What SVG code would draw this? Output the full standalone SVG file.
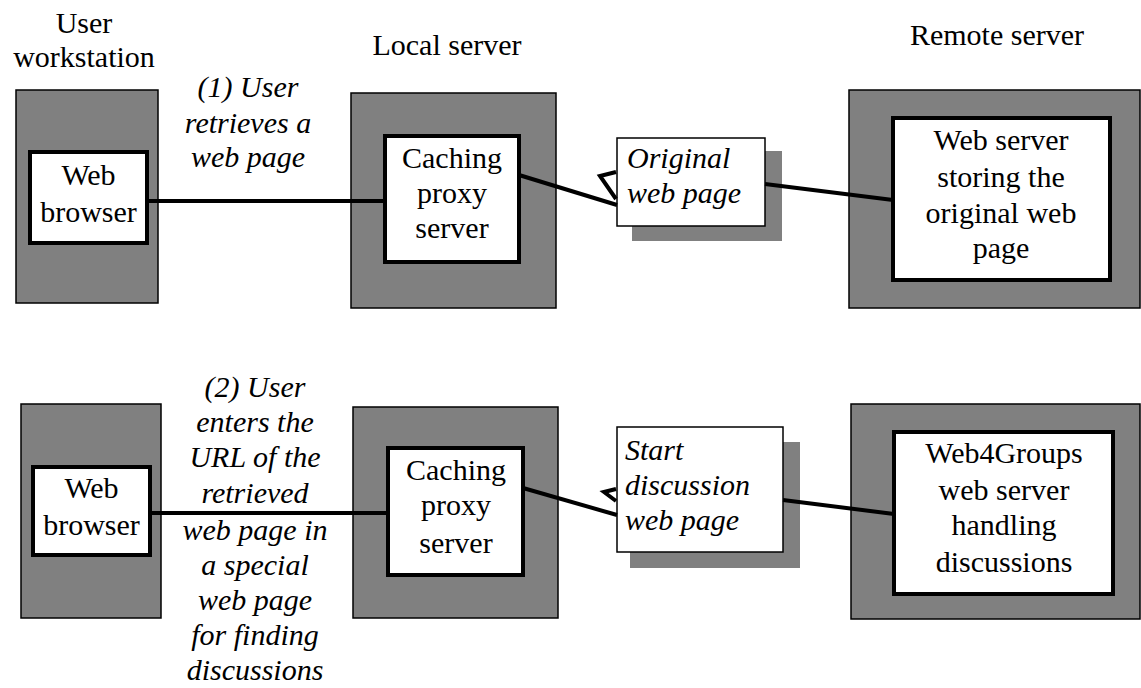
<svg xmlns="http://www.w3.org/2000/svg" width="1141" height="688" viewBox="0 0 1141 688">
<style>
text{font-family:"Liberation Serif","Times New Roman",Times,Tinos,"Noto Serif","DejaVu Serif",serif;font-size:30px;fill:#000}
.c{text-anchor:middle}
.i{font-style:italic}
.outer{fill:#808080;stroke:#000;stroke-width:1.5}
.inner{fill:#fff;stroke:#000;stroke-width:4}
.page{fill:#fff;stroke:#000;stroke-width:1.5}
.shadow{fill:#808080}
.conn{fill:none;stroke:#000;stroke-width:4;stroke-linejoin:miter}
</style>
<rect width="1141" height="688" fill="#fff"/>
<g id="titles">
<text class="c" x="84" y="33">User</text>
<text class="c" x="84" y="67">workstation</text>
<text class="c" x="447" y="55">Local server</text>
<text class="c" x="997" y="45">Remote server</text>
</g>
<g id="workstation1">
<rect class="outer" x="16" y="90" width="142" height="213"/>
<rect class="inner" x="30" y="152" width="117" height="91"/>
<text class="c" x="88.5" y="185">Web</text>
<text class="c" x="88.5" y="222">browser</text>
</g>
<g id="local1">
<rect class="outer" x="351" y="93" width="205" height="215"/>
<rect class="inner" x="385" y="136" width="134" height="126"/>
<text class="c" x="452" y="168">Caching</text>
<text class="c" x="452" y="203">proxy</text>
<text class="c" x="452" y="238">server</text>
</g>
<g id="page1">
<rect class="shadow" x="632" y="151" width="150" height="90"/>
<rect class="page" x="617" y="138" width="148" height="88"/>
<text class="i" x="627" y="168">Original</text>
<text class="i" x="627" y="203">web page</text>
</g>
<g id="remote1">
<rect class="outer" x="849" y="90" width="291" height="218"/>
<rect class="inner" x="893" y="118" width="217" height="162"/>
<text class="c" x="1001" y="150">Web server</text>
<text class="c" x="1001" y="187">storing the</text>
<text class="c" x="1001" y="223">original web</text>
<text class="c" x="1001" y="258">page</text>
</g>
<g id="label1">
<text class="c i" x="248" y="97">(1) User</text>
<text class="c i" x="248" y="133">retrieves a</text>
<text class="c i" x="248" y="167">web page</text>
</g>
<g id="workstation2">
<rect class="outer" x="21" y="404" width="140" height="214"/>
<rect class="inner" x="33" y="467" width="117" height="88"/>
<text class="c" x="91.5" y="498">Web</text>
<text class="c" x="91.5" y="535">browser</text>
</g>
<g id="local2">
<rect class="outer" x="353" y="407" width="205" height="211"/>
<rect class="inner" x="388" y="448" width="135" height="127"/>
<text class="c" x="456" y="480">Caching</text>
<text class="c" x="456" y="515">proxy</text>
<text class="c" x="456" y="553">server</text>
</g>
<g id="page2">
<rect class="shadow" x="630" y="442" width="170" height="126"/>
<rect class="page" x="617" y="427" width="166" height="125"/>
<text class="i" x="625" y="460">Start</text>
<text class="i" x="625" y="495">discussion</text>
<text class="i" x="625" y="530">web page</text>
</g>
<g id="remote2">
<rect class="outer" x="851" y="404" width="289" height="215"/>
<rect class="inner" x="894" y="432" width="219" height="162"/>
<text class="c" x="1004" y="463">Web4Groups</text>
<text class="c" x="1004" y="500">web server</text>
<text class="c" x="1004" y="535">handling</text>
<text class="c" x="1004" y="572">discussions</text>
</g>
<g id="label2">
<text class="c i" x="255" y="397">(2) User</text>
<text class="c i" x="255" y="432">enters the</text>
<text class="c i" x="255" y="467">URL of the</text>
<text class="c i" x="255" y="503">retrieved</text>
<text class="c i" x="255" y="540">web page in</text>
<text class="c i" x="255" y="575">a special</text>
<text class="c i" x="255" y="610">web page</text>
<text class="c i" x="255" y="645">for finding</text>
<text class="c i" x="255" y="680">discussions</text>
</g>
<g id="connectors">
<line class="conn" x1="147" y1="201" x2="385" y2="201"/>
<line class="conn" x1="519" y1="175" x2="617" y2="205"/>
<polyline class="conn" points="616,172 600,176 616,199"/>
<line class="conn" x1="765" y1="184" x2="893" y2="200"/>
<line class="conn" x1="150" y1="513" x2="388" y2="513"/>
<line class="conn" x1="523" y1="488" x2="617" y2="515"/>
<polyline class="conn" points="616,489 604,492 616,501"/>
<line class="conn" x1="783" y1="500" x2="894" y2="514"/>
</g>
</svg>
